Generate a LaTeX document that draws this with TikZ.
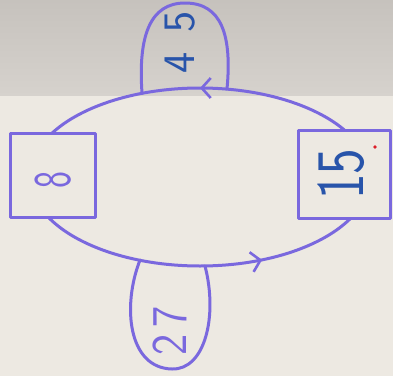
\documentclass[tikz,border=0pt]{standalone}
\usepackage{graphicx}
\usetikzlibrary{arrows.meta,decorations.markings}
\definecolor{pen}{RGB}{122,104,222}
\definecolor{ink}{RGB}{40,84,170}
\definecolor{paper}{RGB}{237,233,226}
\definecolor{papertop}{RGB}{198,194,189}
\definecolor{paperfold}{RGB}{214,210,205}
\definecolor{dot}{RGB}{220,30,40}
\begin{document}
\begin{tikzpicture}[x=1pt,y=1pt,
  penline/.style={draw=pen, line width=3pt, line cap=round, line join=round},
  boxst/.style={penline, fill=paper, rectangle, inner sep=0pt},
  digits/.style={inner sep=0pt, rotate=90},
  chevtip/.style={decoration={markings, mark=at position #1 with {\arrow[pen]{Straight Barb[length=9pt,width=20pt,line width=2.6pt]}}}, postaction={decorate}}
]
\useasboundingbox (0,0) rectangle (393,376);
\fill[paper] (0,0) rectangle (393,376);
\shade[top color=papertop, bottom color=paperfold] (0,281) rectangle (393,376);
% big loop
\coordinate (c) at (200,199);
\draw[penline, chevtip=0.5] ([xshift=170pt]c) arc[start angle=0,end angle=180,x radius=170pt,y radius=89pt];
\draw[penline, chevtip=0.65] ([xshift=-170pt]c) arc[start angle=180,end angle=360,x radius=170pt,y radius=89pt];
% top blob
\draw[penline] (142,283) .. controls (138,340) and (150,373) .. (185,373) .. controls (222,373) and (232,340) .. (227,287);
% bottom blob
\draw[penline] (140,116) .. controls (122,70) and (128,8) .. (172,7) .. controls (205,6) and (218,60) .. (205,110);
% boxes
\node[boxst, minimum width=85pt, minimum height=84pt] (b8) at (52.5,201) {};
\node[boxst, minimum width=92pt, minimum height=88pt] (b15) at (344,202) {};
% texts
\node[digits, text=pen, font=\sffamily\fontsize{53}{53}\selectfont] (t8) at (53,196) {\scalebox{0.68}[1]{8}};
\node[digits, text=ink, font=\sffamily\fontsize{68}{68}\selectfont] (t15) at (341,202) {\scalebox{0.8}[1]{15}};
\node[digits, text=ink, font=\sffamily\fontsize{45}{45}\selectfont] (t45) at (180,334) {4\hspace{20pt}5};
\node[digits, text=pen, font=\sffamily\fontsize{50}{50}\selectfont] (t27) at (170,45) {\scalebox{0.9}[1]{2\hspace{8pt}7}};
\fill[dot] (375,229) circle (1.8pt);
\end{tikzpicture}
\end{document}
